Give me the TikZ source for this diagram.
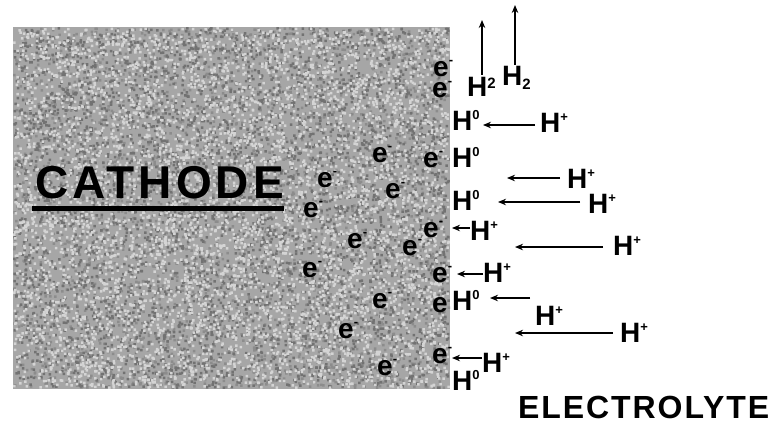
\documentclass[tikz,border=0pt]{standalone}
\usepackage{fontspec}
\setmainfont{Liberation Sans}
\newfontfamily\wideA[LetterSpace=9]{Liberation Sans}
\newfontfamily\wideB[LetterSpace=6]{Liberation Sans}
\usetikzlibrary{arrows.meta,calc}
\definecolor{cathgray}{HTML}{A6A6A6}
\definecolor{speckdark}{HTML}{727272}
\definecolor{speckmid}{HTML}{8C8C8C}
\definecolor{specklight}{HTML}{D4D4D4}
\newcommand\supx[1]{\raisebox{11pt}{\fontsize{13}{13}\selectfont #1}}
\newcommand\supm{\raisebox{12pt}{\fontsize{13}{13}\selectfont -}}
\newcommand\subx[1]{\raisebox{-4pt}{\fontsize{15}{15}\selectfont #1}}
\newcommand\supt[1]{\raisebox{9pt}{\fontsize{15}{15}\selectfont #1}}
\tikzset{
  lbl/.style={font=\fontsize{28}{28}\selectfont\bfseries, inner sep=0pt, anchor=base west},
  arr/.style={-{Stealth[length=8pt,width=6.5pt]}, line width=1.3pt},
}
\begin{document}
\begin{tikzpicture}[x=1pt,y=-1pt]
\useasboundingbox (0,0) rectangle (775,425);
% cathode block with granite texture
\fill[cathgray] (13,27) rectangle (450,389);
\pgfmathsetseed{7}
\fill[speckmid] foreach \i in {1,...,1500} { ({13+rnd*434.5},{27+rnd*359.5}) rectangle ++(2.5,2.5) };
\fill[speckmid] foreach \i in {1,...,1500} { ({13+rnd*434.5},{27+rnd*359.5}) rectangle ++(2.5,2.5) };
\fill[speckdark] foreach \i in {1,...,1500} { ({13+rnd*434.5},{27+rnd*359.5}) rectangle ++(2.5,2.5) };
\fill[speckdark] foreach \i in {1,...,1500} { ({13+rnd*434.5},{27+rnd*359.5}) rectangle ++(2.5,2.5) };
\fill[speckdark] foreach \i in {1,...,1500} { ({13+rnd*434.5},{27+rnd*359.5}) rectangle ++(2.5,2.5) };
\fill[specklight] foreach \i in {1,...,1500} { ({13+rnd*434.5},{27+rnd*359.5}) rectangle ++(2.5,2.5) };
\fill[specklight] foreach \i in {1,...,1500} { ({13+rnd*434.5},{27+rnd*359.5}) rectangle ++(2.5,2.5) };
\fill[specklight] foreach \i in {1,...,1500} { ({13+rnd*434.5},{27+rnd*359.5}) rectangle ++(2.5,2.5) };
\fill[specklight] foreach \i in {1,...,1000} { ({13+rnd*434.5},{27+rnd*359.5}) rectangle ++(2.5,2.5) };

% labels
\node[inner sep=0pt, anchor=base west, font=\fontsize{46}{46}\selectfont\bfseries\wideA] (cath) at (35,198) {CATHODE};
\draw[line width=5pt] ($(cath.base west)+(-3,10)$) -- ($(cath.base east)+(0,10)$);
\node[inner sep=0pt, anchor=base west, font=\fontsize{32}{32}\selectfont\bfseries\wideB] (elec) at (518,418) {ELECTROLYTE};

% electrons
\node[lbl] (e1) at (433,77) {e\supm};
\node[lbl] (e2) at (432,98) {e\supm};
\node[lbl] (e3) at (372,162) {e\supm};
\node[lbl] (e4) at (423,167) {e\supm};
\node[lbl] (e5) at (317,187) {e\supm};
\node[lbl] (e6) at (385,198) {e\supm};
\node[lbl] (e7) at (303,217) {e\supm};
\node[lbl] (e8) at (423,237) {e\supm};
\node[lbl] (e9) at (347,248) {e\supm};
\node[lbl] (e10) at (402,255) {e\supm};
\node[lbl] (e11) at (302,277) {e\supm};
\node[lbl] (e12) at (432,282) {e\supm};
\node[lbl] (e13) at (372,308) {e\supm};
\node[lbl] (e14) at (432,312) {e};
\node[lbl] (e15) at (338,338) {e\supm};
\node[lbl] (e16) at (432,363) {e\supm};
\node[lbl] (e17) at (377,375) {e\supm};

% hydrogen molecules
\node[lbl] (m1) at (467,97) {H\supt{2}};
\node[lbl] (m2) at (502,85) {H\subx{2}};
\coordinate (m1top) at (482,20);
\coordinate (m2top) at (515,5);
\draw[arr] (482,75) -- (m1top);
\draw[arr] (515,65) -- (m2top);

% hydrogen atoms and ions
\node[lbl] (a1) at (452,130) {H\supx{0}};
\node[lbl] (p1) at (540,132) {H\supx{+}};
\node[lbl] (a2) at (452,167) {H\supx{0}};
\node[lbl] (p2) at (567,188) {H\supx{+}};
\node[lbl] (a3) at (452,210) {H\supx{0}};
\node[lbl] (p3) at (588,213) {H\supx{+}};
\node[lbl] (p4) at (470,240) {H\supx{+}};
\node[lbl] (p5) at (613,255) {H\supx{+}};
\node[lbl] (p6) at (483,282) {H\supx{+}};
\node[lbl] (a4) at (452,310) {H\supx{0}};
\node[lbl] (p7) at (535,325) {H\supx{+}};
\node[lbl] (p8) at (620,342) {H\supx{+}};
\node[lbl] (p9) at (482,372) {H\supx{+}};
\node[lbl] (a5) at (452,390) {H\supx{0}};

% arrows
\coordinate (s1) at (535,125); \coordinate (t1) at (483,125);
\coordinate (s2) at (560,178); \coordinate (t2) at (507,178);
\coordinate (s3) at (580,202); \coordinate (t3) at (498,202);
\coordinate (s4) at (470,228); \coordinate (t4) at (452,228);
\coordinate (s5) at (603,247); \coordinate (t5) at (515,247);
\coordinate (s6) at (483,274); \coordinate (t6) at (457,274);
\coordinate (s7) at (530,298); \coordinate (t7) at (490,298);
\coordinate (s8) at (613,333); \coordinate (t8) at (515,333);
\coordinate (s9) at (482,358); \coordinate (t9) at (452,358);
\foreach \k in {1,...,9} { \draw[arr] (s\k) -- (t\k); }
\end{tikzpicture}
\end{document}
